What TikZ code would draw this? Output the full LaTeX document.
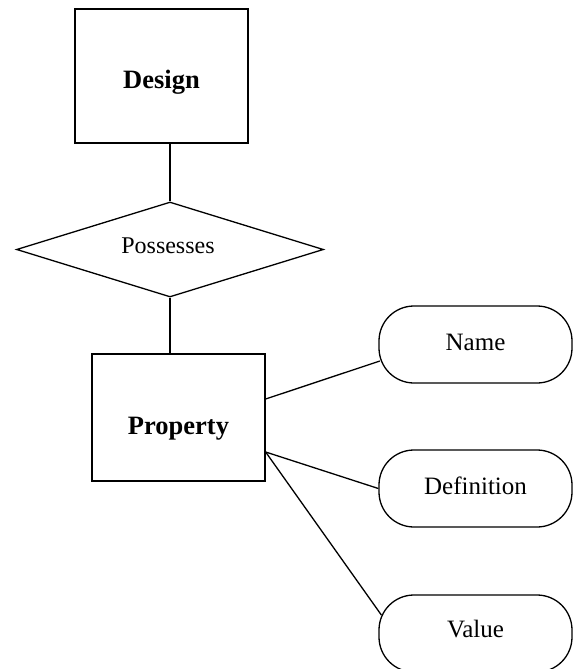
\documentclass[tikz,border=0pt]{standalone}
\usepackage{fontspec}
\setmainfont{Liberation Serif}
\usetikzlibrary{shapes.geometric,calc}
\begin{document}
\begin{tikzpicture}[x=1pt,y=-1pt,
  every path/.style={line width=1.3pt},
  entity/.style={draw,line width=1.3pt,rectangle,minimum width=173pt,minimum height=134pt,inner sep=0pt},
  relation/.style={draw,line width=1.3pt,diamond,minimum width=307pt,minimum height=95pt,inner sep=0pt,aspect=3.2},
  attrib/.style={draw,line width=1.3pt,rectangle,rounded corners=35pt,minimum width=193pt,minimum height=77pt,inner sep=0pt,font=\fontsize{25}{30}\selectfont},
  etext/.style={font=\bfseries\fontsize{26.5}{32}\selectfont},
  link/.style={draw,line width=1.3pt}]
\useasboundingbox (0,0) rectangle (574,669);
\node[entity,label={[etext,yshift=-6pt]center:Design}] (design) at (161.5,76) {};
\node[relation,font=\fontsize{24}{29}\selectfont] (poss) at (170,249.5) {};
\node[font=\fontsize{24}{29}\selectfont] (posst) at (168,246) {Possesses};
\node[entity,minimum height=127pt,label={[etext,yshift=-11pt]center:Property}] (prop) at (178.5,417.5) {};
\node[attrib] (name) at (475.5,344.5) {};
\node[font=\fontsize{25}{30}\selectfont] (namet) at (475.5,342) {Name};
\node[attrib] (def) at (475.5,488.5) {};
\node[font=\fontsize{25}{30}\selectfont] (deft) at (475.5,485.5) {Definition};
\node[attrib] (val) at (475.5,633.5) {};
\node[font=\fontsize{25}{30}\selectfont] (valt) at (475.5,629) {Value};
\coordinate (p1) at ($(prop.east)+(0,-18.5)$);
\coordinate (p2) at ($(prop.east)+(0,34.5)$);
\coordinate (n1) at ($(name.west)+(1.5,16.5)$);
\coordinate (v1) at ($(val.west)+(3,-18.5)$);
\draw[link] (design.south -| poss.north) -- (poss.north);
\draw[link] (poss.south) -- (poss.south |- prop.north);
\draw[link] (p1) -- (n1);
\draw[link] (p2) -- (def.west);
\draw[link] (p2) -- (v1);
\end{tikzpicture}
\end{document}
